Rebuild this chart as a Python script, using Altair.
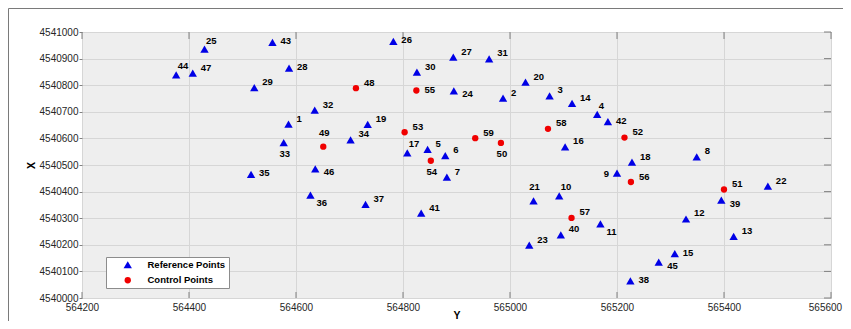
import altair as alt
import pandas as pd

# ---------------- data ----------------
ref_ids = list(range(1, 48))
ref_y = [564586, 564987, 565074, 565163, 564846, 564879, 564882, 565349, 565200, 565092,
         565169, 565329, 565418, 565116, 565308, 565103, 564808, 565228, 564734, 565029,
         565044, 565482, 565036, 564895, 564429, 564782, 564894, 564587, 564522, 564826,
         564961, 564635, 564577, 564702, 564516, 564627, 564730, 565225, 565395, 565095,
         564834, 565183, 564556, 564376, 565278, 564636, 564407]
ref_x = [4540654, 4540751, 4540760, 4540690, 4540559, 4540535, 4540454, 4540531, 4540469, 4540384,
         4540279, 4540297, 4540232, 4540732, 4540167, 4540568, 4540546, 4540511, 4540653, 4540812,
         4540365, 4540421, 4540199, 4540779, 4540936, 4540965, 4540906, 4540864, 4540791, 4540849,
         4540899, 4540706, 4540584, 4540594, 4540465, 4540387, 4540352, 4540064, 4540368, 4540237,
         4540319, 4540663, 4540961, 4540839, 4540135, 4540485, 4540845]

ctrl_ids = list(range(48, 60))
ctrl_y = [564712, 564651, 564983, 565400, 565214, 564803, 564852, 564825, 565226, 565115, 565071, 564935]
ctrl_x = [4540789, 4540569, 4540583, 4540408, 4540603, 4540623, 4540516, 4540780, 4540436, 4540301, 4540636, 4540601]

x_ticks = [564200, 564400, 564600, 564800, 565000, 565200, 565400, 565600]
y_ticks = [4540000, 4540100, 4540200, 4540300, 4540400, 4540500,
           4540600, 4540700, 4540800, 4540900, 4541000]
legend_labels = ["Reference Points", "Control Points"]

# label placement classes (style only); default is upper right
label_pos = {
    17: "u", 4: "u", 10: "u", 25: "u", 44: "u",
    43: "r", 28: "r", 26: "r", 55: "r", 42: "r", 35: "r", 15: "r", 38: "r",
    24: "rd", 46: "rd", 39: "rd", 45: "rd",
    36: "d", 11: "d",
    33: "below", 54: "below", 50: "below",
    49: "above", 21: "above",
    9: "left",
}
placement = {
    "ur": dict(dx=8, dy=-5.5, align="left"),
    "u": dict(dx=1.5, dy=-8.5, align="left"),
    "r": dict(dx=8, dy=-1, align="left"),
    "rd": dict(dx=8.5, dy=3.5, align="left"),
    "d": dict(dx=6, dy=8, align="left"),
    "below": dict(dx=1, dy=11.5, align="center"),
    "above": dict(dx=1, dy=-13.5, align="center"),
    "left": dict(dx=-8, dy=1, align="right"),
}

# ---------------- styling ----------------
W, H = 749, 266
BLUE = "#0000e6"
RED = "#f00000"
AXC = "#808080"
FONT = "Liberation Sans"

df = pd.DataFrame({
    "id": ref_ids + ctrl_ids,
    "Y": ref_y + ctrl_y,
    "X": ref_x + ctrl_x,
    "kind": [legend_labels[0]] * len(ref_ids) + [legend_labels[1]] * len(ctrl_ids),
})
df["pos"] = df["id"].map(lambda i: label_pos.get(i, "ur"))
df["label"] = df["id"].astype(str)

xs = alt.Scale(domain=[x_ticks[0], x_ticks[-1]], nice=False, zero=False)
ys = alt.Scale(domain=[y_ticks[0], y_ticks[-1]], nice=False, zero=False)

x_axis = alt.Axis(values=x_ticks, format="d", title="Y", ticks=False, tickSize=0,
                  labelPadding=4.5, domain=False, grid=True, gridColor="#d6d6d6",
                  labelFont=FONT, labelFontSize=10, labelColor="#262626",
                  labelFlush=False, labelOverlap=False,
                  labelOffset={"condition": {"test": f"datum.value == {x_ticks[-1]}", "value": -6}, "value": 0},
                  titleFont=FONT, titleFontSize=10.5, titleFontWeight="bold",
                  titleColor="black", titlePadding=-2)
y_axis = alt.Axis(values=y_ticks, format="d", title="X", ticks=True, tickSize=3,
                  tickColor=AXC, labelPadding=1, domain=False, grid=True,
                  gridColor="#d6d6d6", labelFont=FONT, labelFontSize=10,
                  labelColor="#262626", labelFlush=False, labelOverlap=False,
                  titleFont=FONT, titleFontSize=10.5, titleFontWeight="bold",
                  titleColor="black", titlePadding=2.5)


def xe(field="Y:Q"):
    return alt.X(field, scale=xs, axis=x_axis)


def ye(field="X:Q"):
    return alt.Y(field, scale=ys, axis=y_axis)


leg = alt.Legend(title=None, orient="none", legendX=24, legendY=225,
                 fillColor="white", strokeColor="#8c8c8c", padding=3,
                 labelFont=FONT, labelFontSize=9.5, labelFontWeight="bold",
                 labelColor="black", labelOffset=15, symbolOffset=14,
                 rowPadding=4.5, symbolStrokeWidth=0)

points = alt.Chart(df).mark_point(filled=True, opacity=1, strokeWidth=0).encode(
    x=xe(), y=ye(),
    shape=alt.Shape("kind:N", scale=alt.Scale(domain=legend_labels, range=["triangle-up", "circle"]), legend=leg),
    color=alt.Color("kind:N", scale=alt.Scale(domain=legend_labels, range=[BLUE, RED]), legend=leg),
    size=alt.Size("kind:N", scale=alt.Scale(domain=legend_labels, range=[70, 40]), legend=leg),
)

label_layers = []
for cls, p in placement.items():
    label_layers.append(
        alt.Chart(df).transform_filter(alt.datum.pos == cls).mark_text(
            dx=p["dx"], dy=p["dy"], align=p["align"], baseline="middle",
            font=FONT, fontSize=9.5, fontWeight="bold", color="black"
        ).encode(x=xe(), y=ye(), text="label:N")
    )

tx = pd.DataFrame({"Y": x_ticks})
ty = pd.DataFrame({"X": y_ticks})
top_ticks = alt.Chart(tx).mark_rule(color=AXC, strokeWidth=1).encode(
    x=xe(), y=alt.value(0), y2=alt.value(7))
bottom_ticks = alt.Chart(tx).mark_rule(color=AXC, strokeWidth=1).encode(
    x=xe(), y=alt.value(H - 6), y2=alt.value(H))
right_ticks = alt.Chart(ty).mark_rule(color=AXC, strokeWidth=1).encode(
    y=ye(), x=alt.value(W - 7), x2=alt.value(W))

frame_data = alt.Data(values=[{"f": 1}])
frame_left = alt.Chart(frame_data).mark_rule(color="#7a7a7a", strokeWidth=1).encode(
    x=alt.value(-73.5), y=alt.value(-23.5), y2=alt.value(H + 40))
frame_top = alt.Chart(frame_data).mark_rule(color="#7a7a7a", strokeWidth=1).encode(
    y=alt.value(-23.5), x=alt.value(-73.5), x2=alt.value(W + 30))

chart = alt.layer(
    points, top_ticks, bottom_ticks, right_ticks, *label_layers, frame_left, frame_top
).properties(
    width=W, height=H,
    autosize=alt.AutoSizeParams(type="none"),
    padding={"left": 74, "top": 24, "right": 12, "bottom": 23},
    background="white",
).configure_view(
    stroke=AXC, strokeWidth=1, fill="#eeeeee"
)

chart.save("out.html", embed_options={"renderer": "svg", "actions": False})
